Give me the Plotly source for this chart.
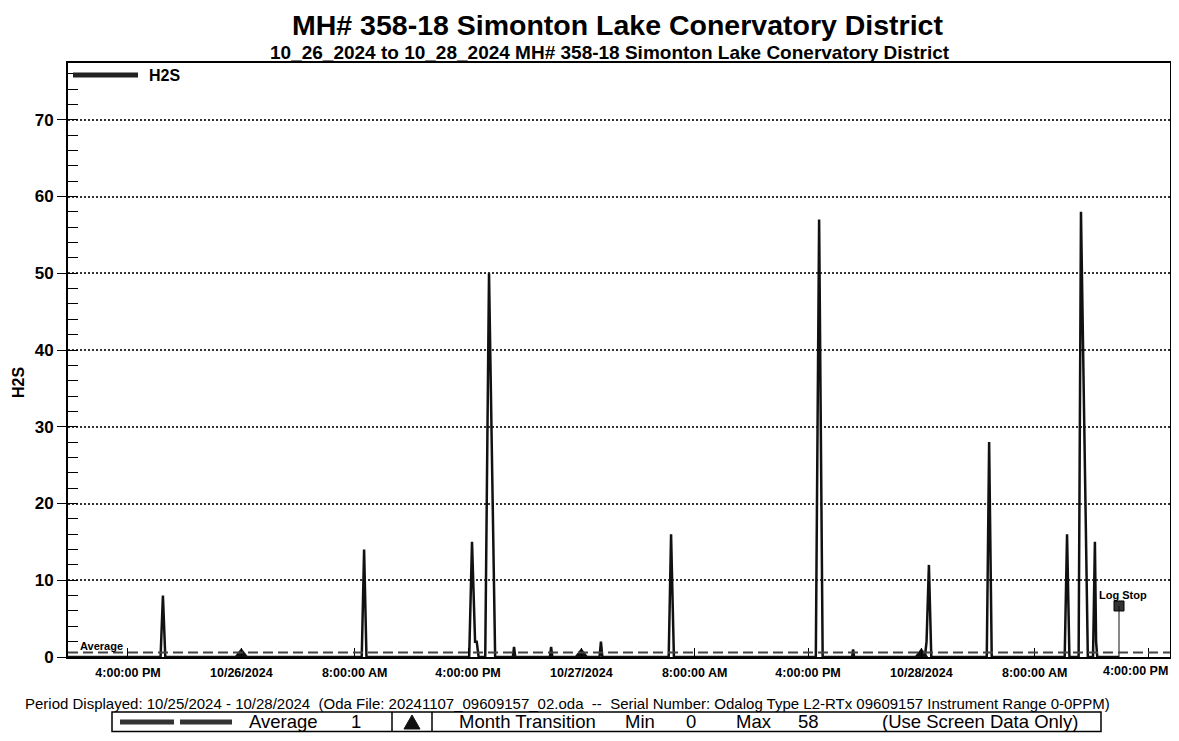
import plotly.graph_objects as go

# ---------------- data ----------------
times = [
    "2024-10-25 11:46", "2024-10-25 18:18", "2024-10-25 18:28", "2024-10-25 18:38",
    "2024-10-26 08:30", "2024-10-26 08:40", "2024-10-26 08:50",
    "2024-10-26 16:05", "2024-10-26 16:17", "2024-10-26 16:30", "2024-10-26 16:37", "2024-10-26 16:45",
    "2024-10-26 17:13", "2024-10-26 17:29", "2024-10-26 17:55",
    "2024-10-26 19:10", "2024-10-26 19:15", "2024-10-26 19:20",
    "2024-10-26 21:47", "2024-10-26 21:52", "2024-10-26 21:57",
    "2024-10-27 01:17", "2024-10-27 01:23", "2024-10-27 01:29",
    "2024-10-27 06:10", "2024-10-27 06:20", "2024-10-27 06:32",
    "2024-10-27 16:33", "2024-10-27 16:47", "2024-10-27 17:02",
    "2024-10-27 19:07", "2024-10-27 19:11", "2024-10-27 19:15",
    "2024-10-28 00:15", "2024-10-28 00:22", "2024-10-28 00:32", "2024-10-28 00:42",
    "2024-10-28 04:37", "2024-10-28 04:47", "2024-10-28 04:58",
    "2024-10-28 10:07", "2024-10-28 10:17", "2024-10-28 10:27",
    "2024-10-28 11:06", "2024-10-28 11:16", "2024-10-28 11:45",
    "2024-10-28 12:07", "2024-10-28 12:15", "2024-10-28 12:20", "2024-10-28 12:25",
    "2024-10-28 13:57",
]
h2s = [
    0, 0, 8, 0,
    0, 14, 0,
    0, 15, 2, 2, 0,
    0, 50, 0,
    0, 1.3, 0,
    0, 1.3, 0,
    0, 2, 0,
    0, 16, 0,
    0, 57, 0,
    0, 1, 0,
    0, 2, 12, 0,
    0, 28, 0,
    0, 16, 0,
    0, 58, 0,
    0, 15, 2, 0,
    0,
]
average_line = 0.6
month_transitions = ["2024-10-26 00:00", "2024-10-27 00:00", "2024-10-28 00:00"]
log_stop_time = "2024-10-28 13:57"
log_stop_value = 6.65

x_range = ["2024-10-25 11:46", "2024-10-28 17:33"]
x_tickvals = [
    "2024-10-25 16:00", "2024-10-26 00:00", "2024-10-26 08:00", "2024-10-26 16:00",
    "2024-10-27 00:00", "2024-10-27 08:00", "2024-10-27 16:00",
    "2024-10-28 00:00", "2024-10-28 08:00", "2024-10-28 16:00",
]
x_ticktext = [
    "4:00:00 PM", "10/26/2024", "8:00:00 AM", "4:00:00 PM",
    "10/27/2024", "8:00:00 AM", "4:00:00 PM",
    "10/28/2024", "8:00:00 AM", "4:00:00 PM",
]
y_tickvals = [0, 10, 20, 30, 40, 50, 60, 70]
y_max = 77.4

title = "MH# 358-18 Simonton Lake Conervatory District"
subtitle = "10_26_2024 to 10_28_2024 MH# 358-18 Simonton Lake Conervatory District"
period_text = ("Period Displayed: 10/25/2024 - 10/28/2024  (Oda File: 20241107_09609157_02.oda  --  "
               "Serial Number: Odalog Type L2-RTx 09609157 Instrument Range 0-0PPM)")
avg_display = "1"
min_display = "0"
max_display = "58"

# ---------------- layout helpers ----------------
# the page body has an 8px margin, so the figure starts at page (8, 8)
OFF = 8
W, H = 1179 - 2 * OFF, 741 - 2 * OFF
# plot area in page pixels
L, R, T, B = 68, 1170, 63, 657
FONT = "Arial, Liberation Sans, sans-serif"


def px(x):
    return (x - L) / (R - L)


def py(y):
    return (B - y) / (B - T)


fig = go.Figure()

fig.add_trace(go.Scatter(x=times, y=h2s, mode="lines",
                         line=dict(color="#111111", width=2.5), hoverinfo="skip",
                         showlegend=False))

# month transition triangles (base sitting on the axis)
tri_size = 12
fig.add_trace(go.Scatter(x=month_transitions,
                         y=[(tri_size / 4) / ((B - T) / y_max)] * len(month_transitions),
                         mode="markers",
                         marker=dict(symbol="triangle-up", size=tri_size, color="#111111",
                                     line=dict(width=0)),
                         showlegend=False, cliponaxis=False))

# log stop
fig.add_shape(type="line", x0=log_stop_time, x1=log_stop_time, y0=0, y1=log_stop_value,
              xref="x", yref="y", line=dict(color="#111111", width=1))
fig.add_trace(go.Scatter(x=[log_stop_time], y=[log_stop_value], mode="markers",
                         marker=dict(symbol="square", size=10, color="#333333",
                                     line=dict(color="#000000", width=1)),
                         showlegend=False))

# average dashed line
fig.add_shape(type="line", x0=0, x1=1, xref="paper", y0=average_line, y1=average_line, yref="y",
              line=dict(color="#444444", width=2, dash="10px,5px"))

annotations = []


def text(x, y, s, size, bold=False, xanchor="center", angle=0):
    annotations.append(dict(
        x=px(x), y=py(y), xref="paper", yref="paper", text=("<b>%s</b>" % s) if bold else s,
        showarrow=False, xanchor=xanchor, yanchor="middle", textangle=angle,
        font=dict(family=FONT, size=size, color="#000000")))


text(617, 25.5, title, 28.5, bold=True)
text(610, 53, subtitle, 19, bold=True)
text(147, 76, "H2S", 16, bold=True, xanchor="left")
text(18, 383, "H2S", 16, bold=True, angle=-90)
text(78, 646, "Average", 11, bold=True, xanchor="left")
text(1123, 595, "Log Stop", 11, bold=True)
text(23, 703, period_text, 15, xanchor="left")
# last x tick label sits at the right page edge
text(1170, 671, x_ticktext[-1], 12.5, bold=True, xanchor="right")

# bottom legend box
row_y = 721.5
text(283, row_y, "Average", 18.5)
text(356, row_y, avg_display, 18.5)
text(527, row_y, "Month Transition", 18.5)
text(640, row_y, "Min", 18.5)
text(691, row_y, min_display, 18.5)
text(754, row_y, "Max", 18.5)
text(808, row_y, max_display, 18.5)
text(980, row_y, "(Use Screen Data Only)", 18.5)

box_top, box_bot = 712, 731.5
shapes_paper = [
    dict(type="rect", x0=px(112), x1=px(1101), y0=py(box_top), y1=py(box_bot),
         line=dict(color="#000000", width=1.5)),
    dict(type="line", x0=px(392), x1=px(392), y0=py(box_top), y1=py(box_bot),
         line=dict(color="#000000", width=1.5)),
    dict(type="line", x0=px(432), x1=px(432), y0=py(box_top), y1=py(box_bot),
         line=dict(color="#000000", width=1.5)),
    dict(type="line", x0=px(120), x1=px(174), y0=py(722), y1=py(722),
         line=dict(color="#333333", width=5)),
    dict(type="line", x0=px(180), x1=px(232), y0=py(722), y1=py(722),
         line=dict(color="#333333", width=5)),
    dict(type="line", x0=px(73), x1=px(138), y0=py(75), y1=py(75),
         line=dict(color="#222222", width=5)),
    dict(type="path",
         path="M %f,%f L %f,%f L %f,%f Z" % (px(404), py(729), px(420), py(729), px(412), py(715)),
         fillcolor="#111111", line=dict(color="#111111", width=1)),
]
for s in shapes_paper:
    s.update(xref="paper", yref="paper")
    fig.add_shape(**s)

tick_text_axis = x_ticktext[:-1] + [""]

fig.update_layout(
    width=W, height=H,
    margin=dict(l=L - OFF, r=(W + OFF) - R, t=T - OFF, b=(H + OFF) - B, autoexpand=False),
    paper_bgcolor="white", plot_bgcolor="white",
    showlegend=False,
    annotations=annotations,
    font=dict(family=FONT, color="#000000"),
)

fig.update_xaxes(
    type="date", range=x_range,
    tickmode="array", tickvals=x_tickvals, ticktext=tick_text_axis,
    ticks="inside", ticklen=9, tickwidth=1, tickcolor="#000000",
    tickfont=dict(family=FONT, size=12.5, color="#000000", weight="bold"),
    ticklabelstandoff=3,
    showgrid=False, zeroline=False,
    showline=True, linecolor="#000000", linewidth=2, mirror=True,
)
fig.update_yaxes(
    range=[0, y_max],
    tickmode="array", tickvals=y_tickvals,
    ticks="outside", ticklen=9, tickwidth=1, tickcolor="#000000",
    tickfont=dict(family=FONT, size=17, color="#000000", weight="bold"),
    minor=dict(ticks="inside", ticklen=10, tickwidth=1, tickcolor="#000000", dtick=2,
               tick0=0, showgrid=False),
    showgrid=True, gridcolor="#333333", gridwidth=1.5, griddash="2px,2px",
    zeroline=False,
    showline=True, linecolor="#000000", linewidth=2, mirror=True,
)

fig.write_html("out.html")
